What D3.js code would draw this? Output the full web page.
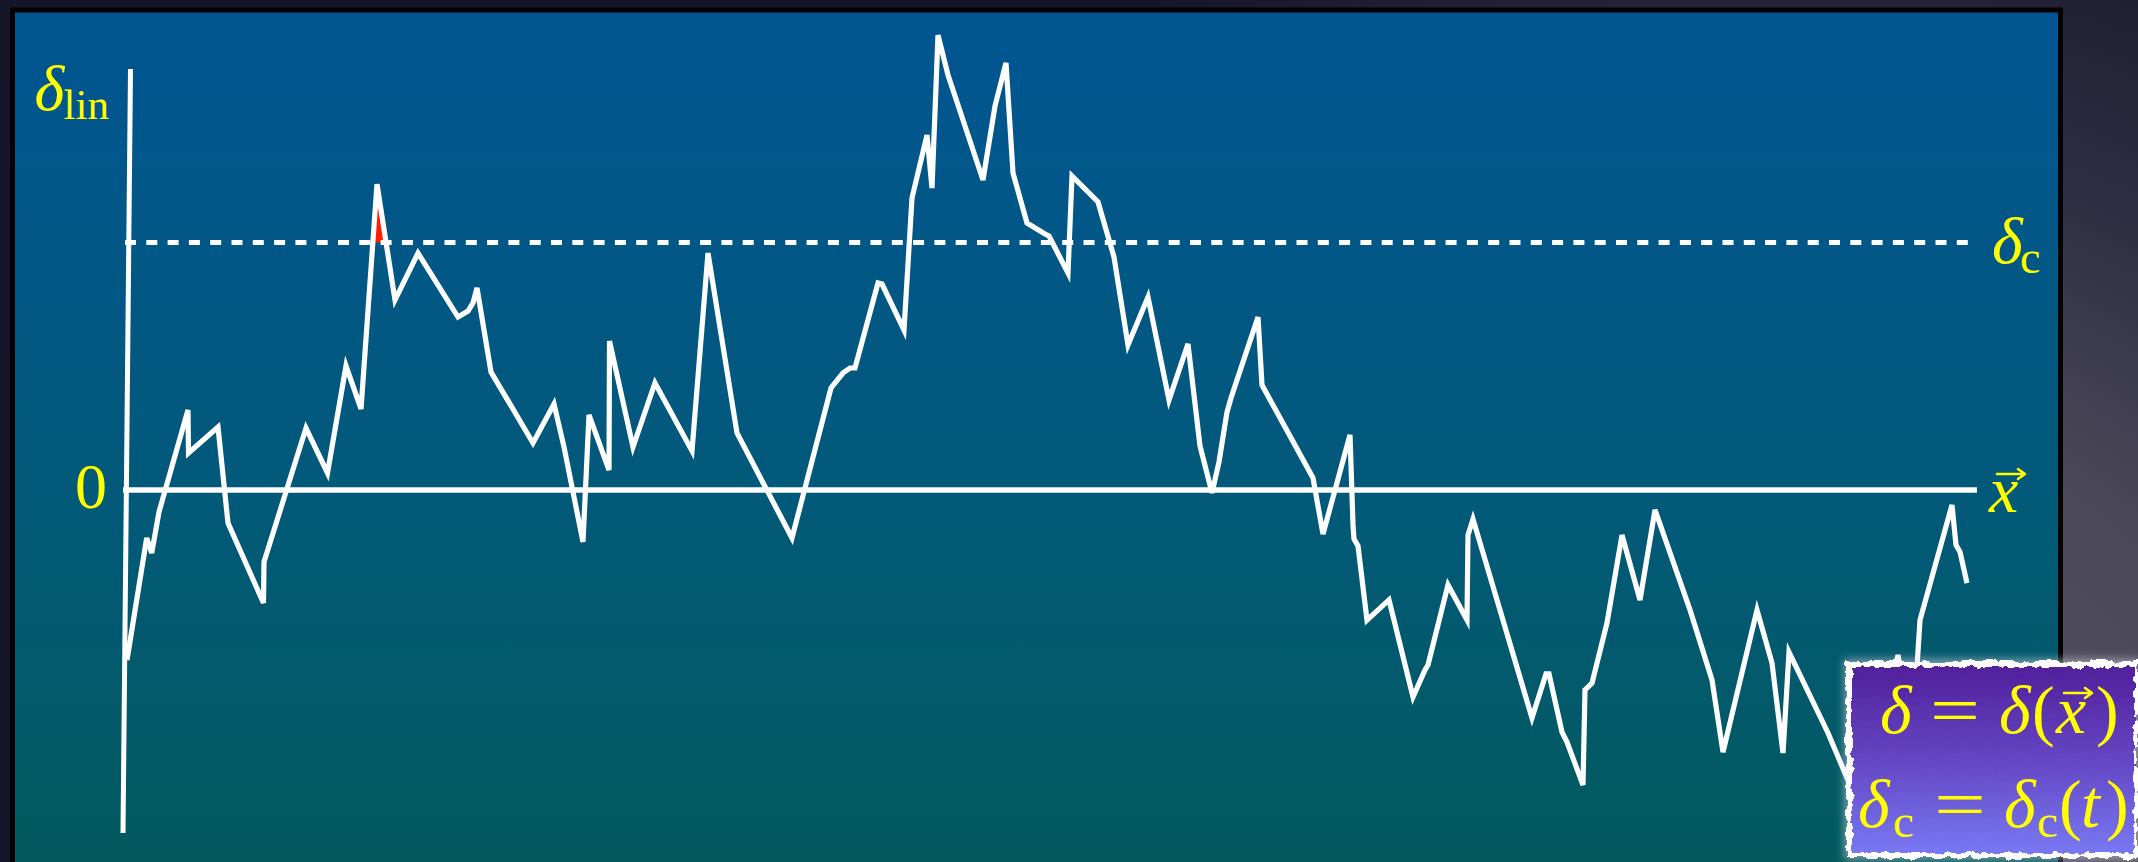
<!DOCTYPE html>
<html>
<head>
<meta charset="utf-8">
<script src="https://cdn.jsdelivr.net/npm/d3@7"></script>
<style>
  html, body { margin: 0; padding: 0; overflow: hidden; background: #1a1a2c; }
  text { font-family: "Liberation Serif", "DejaVu Serif", serif; }
</style>
</head>
<body>
<script>
// Linear density contrast sampled along a line through space (arbitrary position units)
const positions = [0, 0.985, 1.235, 1.6, 3.05, 3.075, 4.55, 5.05, 6.825, 6.85, 8.95, 10.025, 10.95, 11.7, 12.5,
  13.4, 14.55, 16.55, 17.05, 17.3, 17.5, 18.2, 20.3, 21.35, 21.85, 22.8, 23.1, 24.1, 24.125, 25.3, 26.4, 28.25,
  29.05, 30.5, 33.25, 35.2, 35.8, 36.15, 36.4, 37.55, 37.75, 38.85, 39.25, 40.0, 40.25, 40.55, 41.05, 42.8, 43.4,
  43.95, 44.3, 45.0, 45.9, 46.1, 47.05, 47.25, 48.55, 49.35, 50.05, 51.05, 52.1, 53.05, 53.65, 54.25, 54.6, 55.0,
  55.2, 56.55, 56.75, 59.3, 59.8, 61.15, 61.3, 61.35, 61.55, 62.0, 63.1, 64.3, 64.9, 65.05, 66.05, 67.0, 67.05,
  67.3, 70.25, 70.95, 71.1, 71.75, 72.0, 72.8, 72.9, 73.25, 74.0, 74.75, 75.65, 76.4, 78.15, 79.25, 79.8, 81.5,
  82.25, 82.8, 83.1, 85.05, 86.15, 87.25, 88.15, 88.55, 88.9, 89.35, 89.5, 89.65, 91.25, 91.45, 91.65, 92.0];

const deltaLin = [-1.158, -0.327, -0.429, -0.150, 0.545, 0.252, 0.429, -0.225, -0.770, -0.490, 0.422, 0.116,
  0.845, 0.552, 2.084, 1.294, 1.614, 1.178, 1.219, 1.274, 1.376, 0.804, 0.320, 0.586, 0.293, -0.354, 0.511, 0.136,
  1.015, 0.293, 0.729, 0.266, 1.614, 0.388, -0.327, 0.695, 0.797, 0.831, 0.831, 1.410, 1.403, 1.090, 1.989, 2.418,
  2.057, 3.099, 2.827, 2.112, 2.616, 2.909, 2.159, 1.819, 1.744, 1.730, 1.478, 2.139, 1.962, 1.587, 0.988, 1.315,
  0.613, 0.995, 0.300, -0.020, 0.191, 0.531, 0.627, 1.178, 0.715, 0.082, -0.300, 0.375, -0.238, -0.334, -0.381,
  -0.886, -0.749, -1.410, -1.226, -1.192, -0.647, -0.886, -0.307, -0.198, -1.553, -1.253, -1.253, -1.649, -1.717,
  -2.010, -1.362, -1.315, -0.906, -0.307, -0.749, -0.136, -0.817, -1.294, -1.785, -0.817, -1.178, -1.792, -1.104,
  -1.655, -2.010, -1.907, -1.362, -1.124, -1.431, -1.362, -1.206, -0.886, -0.102, -0.375, -0.422, -0.634];

// Collapse threshold
const deltaCrit = 1.686;

// Axis extents in data units: [position, delta]
const verticalAxis = [[-0.2, -2.337], [0.175, 2.868]];
const zeroLineSpan = [-0.2, 92.5];
const thresholdSpan = [-0.1, 92.2];

// Text labels
const yAxisLabel = { main: "δ", sub: "lin" };
const zeroLabel = "0";
const thresholdLabel = { main: "δ", sub: "c" };
const xAxisLabel = "x";

const W = 2138, H = 862;
const YELLOW = "#ffff00";

const x = d3.scaleLinear().domain([0, 92]).range([127, 1967]);
const y = d3.scaleLinear().domain([0, deltaCrit]).range([490, 242.5]);

const walk = positions.map((p, i) => ({ pos: p, delta: deltaLin[i] }));

const svg = d3.select("body").append("svg")
  .attr("width", W).attr("height", H)
  .attr("viewBox", `0 0 ${W} ${H}`);

const defs = svg.append("defs");

// Backdrop vignette
const bg = defs.append("radialGradient").attr("id", "backdrop")
  .attr("gradientUnits", "userSpaceOnUse")
  .attr("cx", 1800).attr("cy", 900).attr("r", 1100);
bg.selectAll("stop").data([[0, "#5a586a"], [0.45, "#4a4858"], [0.7, "#2e2c42"], [1, "#16162a"]])
  .join("stop").attr("offset", d => d[0]).attr("stop-color", d => d[1]);

// Slide panel gradient
const pg = defs.append("linearGradient").attr("id", "panel")
  .attr("gradientUnits", "userSpaceOnUse")
  .attr("x1", 0).attr("y1", 13).attr("x2", 0).attr("y2", 862);
pg.selectAll("stop").data([[0, "#015592"], [0.55, "#02597a"], [1, "#025a5e"]])
  .join("stop").attr("offset", d => d[0]).attr("stop-color", d => d[1]);

// Note card gradient
const ng = defs.append("linearGradient").attr("id", "card")
  .attr("x1", 0).attr("y1", 0).attr("x2", 0).attr("y2", 1);
ng.selectAll("stop").data([[0, "#52209c"], [0.5, "#6446c4"], [1, "#7878f2"]])
  .join("stop").attr("offset", d => d[0]).attr("stop-color", d => d[1]);

// Torn-paper edge filters
function tornFilter(id, seed, scale, freq) {
  const f = defs.append("filter").attr("id", id)
    .attr("x", "-6%").attr("y", "-6%").attr("width", "112%").attr("height", "112%");
  f.append("feTurbulence").attr("type", "fractalNoise").attr("baseFrequency", freq)
    .attr("numOctaves", 3).attr("seed", seed).attr("result", "noise");
  f.append("feDisplacementMap").attr("in", "SourceGraphic").attr("in2", "noise")
    .attr("scale", scale).attr("xChannelSelector", "R").attr("yChannelSelector", "G");
}
tornFilter("tornOuter", 4, 10, 0.09);
tornFilter("tornInner", 11, 7, 0.12);
const glow = defs.append("filter").attr("id", "glow")
  .attr("x", "-10%").attr("y", "-10%").attr("width", "120%").attr("height", "120%");
glow.append("feGaussianBlur").attr("stdDeviation", 4);

// Background and panel
svg.append("rect").attr("width", W).attr("height", H).attr("fill", "url(#backdrop)");
svg.append("rect")
  .attr("x", 12.5).attr("y", 10).attr("width", 2048).attr("height", 880)
  .attr("fill", "url(#panel)").attr("stroke", "#000").attr("stroke-width", 5);

const plot = svg.append("g");

// Vertical axis
plot.append("line")
  .attr("x1", x(verticalAxis[0][0])).attr("y1", y(verticalAxis[0][1]))
  .attr("x2", x(verticalAxis[1][0])).attr("y2", y(verticalAxis[1][1]))
  .attr("stroke", "#fff").attr("stroke-width", 5);

// Zero line
plot.append("line")
  .attr("x1", x(zeroLineSpan[0])).attr("x2", x(zeroLineSpan[1]))
  .attr("y1", y(0)).attr("y2", y(0))
  .attr("stroke", "#fff").attr("stroke-width", 5.5);

// First up-crossing of the threshold, filled in red
(function firstCrossing() {
  const i = walk.findIndex(d => d.delta >= deltaCrit);
  if (i < 1) return;
  const lerp = (a, b) => a.pos + (deltaCrit - a.delta) / (b.delta - a.delta) * (b.pos - a.pos);
  const pts = [{ pos: lerp(walk[i - 1], walk[i]), delta: deltaCrit }];
  let j = i;
  while (j < walk.length && walk[j].delta >= deltaCrit) { pts.push(walk[j]); j++; }
  if (j < walk.length) pts.push({ pos: lerp(walk[j - 1], walk[j]), delta: deltaCrit });
  plot.append("path")
    .attr("d", d3.line().x(d => x(d.pos)).y(d => y(d.delta))(pts) + "Z")
    .attr("fill", "#ff1e00");
})();

// The random walk of the linear density
plot.append("path")
  .datum(walk)
  .attr("d", d3.line().x(d => x(d.pos)).y(d => y(d.delta)))
  .attr("fill", "none").attr("stroke", "#fff")
  .attr("stroke-width", 5.2).attr("stroke-linejoin", "miter");

// Collapse threshold
plot.append("line")
  .attr("x1", x(thresholdSpan[0])).attr("x2", x(thresholdSpan[1]))
  .attr("y1", y(deltaCrit)).attr("y2", y(deltaCrit))
  .attr("stroke", "#fff").attr("stroke-width", 5.2)
  .attr("stroke-dasharray", "11 10.3");

// Labels
const labels = svg.append("g").attr("fill", YELLOW);

function arrowOver(g, x0, x1, yy, w) {
  g.append("path")
    .attr("d", `M${x0},${yy}L${x1},${yy}M${x1 - 7},${yy - 5}L${x1},${yy}L${x1 - 7},${yy + 5}`)
    .attr("fill", "none").attr("stroke", YELLOW).attr("stroke-width", w)
    .attr("stroke-linecap", "round").attr("stroke-linejoin", "round");
}

// δ_lin next to the top of the vertical axis
const axTopX = x(verticalAxis[1][0]), axTopY = y(verticalAxis[1][1]);
labels.append("text").attr("x", axTopX - 96).attr("y", axTopY + 41)
  .attr("font-size", 64).attr("font-style", "italic").text(yAxisLabel.main);
labels.append("text").attr("x", axTopX - 67).attr("y", axTopY + 50)
  .attr("font-size", 43).text(yAxisLabel.sub);

// 0 at the zero line
labels.append("text").attr("x", x(zeroLineSpan[0]) - 16).attr("y", y(0) + 18)
  .attr("text-anchor", "end").attr("font-size", 64).text(zeroLabel);

// x-vector at the end of the zero line
const xLabX = x(zeroLineSpan[1]) + 12;
labels.append("text").attr("x", xLabX).attr("y", y(0) + 22)
  .attr("font-size", 66).attr("font-style", "italic").text(xAxisLabel);
arrowOver(labels, xLabX + 8, xLabX + 36, y(0) - 16, 2.6);

// δ_c at the end of the threshold line
const dcX = x(thresholdSpan[1]) + 21;
labels.append("text").attr("x", dcX).attr("y", y(deltaCrit) + 20)
  .attr("font-size", 66).attr("font-style", "italic").text(thresholdLabel.main);
labels.append("text").attr("x", dcX + 28).attr("y", y(deltaCrit) + 30)
  .attr("font-size", 46).text(thresholdLabel.sub);

// Note card: δ = δ(x), δc = δc(t)
const card = svg.append("g");
const cx0 = 1846, cy0 = 661, cw = 292, ch = 197;
card.append("rect").attr("x", cx0 - 2).attr("y", cy0 - 2).attr("width", cw + 4).attr("height", ch + 4)
  .attr("fill", "#d8d8e0").attr("opacity", 0.55).attr("filter", "url(#glow)");
card.append("rect").attr("x", cx0).attr("y", cy0).attr("width", cw).attr("height", ch)
  .attr("fill", "#fdfdfd").attr("filter", "url(#tornOuter)");
card.append("rect").attr("x", cx0 + 6).attr("y", cy0 + 6).attr("width", cw - 10).attr("height", ch - 11)
  .attr("fill", "url(#card)").attr("filter", "url(#tornInner)");

const ct = card.append("g").attr("fill", YELLOW);
function piece(str, px, py, size, italic, stretch) {
  const t = ct.append("text").attr("x", px).attr("y", py).attr("font-size", size).text(str);
  if (italic) t.attr("font-style", "italic");
  if (stretch) t.attr("textLength", stretch).attr("lengthAdjust", "spacingAndGlyphs");
  return t;
}
const b1 = 733, b2 = 827, fs = 68;
piece("δ", 1880, b1, fs, true);
piece("=", 1930, b1, fs, false, 50);
piece("δ", 1999, b1, fs, true);
piece("(", 2032, b1, fs, false);
piece("x", 2056, b1, fs, true);
arrowOver(ct, 2064, 2092, 693, 2.6);
piece(")", 2096, b1, fs, false);

piece("δ", 1858, b2, fs, true);
piece("c", 1893, b2 + 10, 47, false);
piece("=", 1934, b2, fs, false, 52);
piece("δ", 2004, b2, fs, true);
piece("c", 2037, b2 + 10, 47, false);
piece("(", 2059, b2, fs, false);
piece("t", 2081, b2, fs, true);
piece(")", 2106, b2, fs, false);
</script>
</body>
</html>
